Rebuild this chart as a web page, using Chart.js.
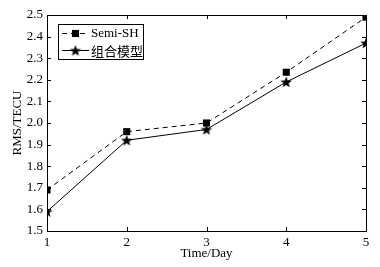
<!DOCTYPE html>
<html>
<head>
<meta charset="utf-8">
<script src="https://cdn.jsdelivr.net/npm/chart.js@4/dist/chart.umd.min.js"></script>
<style>
  html, body { margin: 0; padding: 0; background: #fff; }
  #wrap { width: 380px; height: 267px; }
</style>
</head>
<body>
<div id="wrap"><canvas id="rms"></canvas></div>
<script>
// data
var days = [1, 2, 3, 4, 5];
var semiSH = [1.69, 1.96, 2.00, 2.235, 2.49];
var combined = [1.59, 1.92, 1.97, 2.19, 2.37];
var yTicks = [1.5, 1.6, 1.7, 1.8, 1.9, 2.0, 2.1, 2.2, 2.3, 2.4, 2.5];
var seriesNames = ['Semi-SH', '组合模型'];

var serif = '"Liberation Serif", "Times New Roman", serif';
var cjk = '"Noto Sans CJK SC", "Liberation Serif", serif';

/**
 * Build a filled five point star as a point image
 * @param {number} size pixel size
 * @returns {HTMLCanvasElement}
 */
function makeStar(size) {
    var c = document.createElement('canvas');
    c.width = size;
    c.height = size;
    var g = c.getContext('2d');
    var cx = size / 2, cy = size / 2 + 0.5;
    var outer = size / 2, inner = outer * 0.42;
    g.beginPath();
    for (var i = 0; i < 10; i++) {
        var r = i % 2 === 0 ? outer : inner;
        var a = -Math.PI / 2 + i * Math.PI / 5;
        g.lineTo(cx + r * Math.cos(a), cy + r * Math.sin(a));
    }
    g.closePath();
    g.fillStyle = '#000';
    g.fill();
    return c;
}
var star = makeStar(12);

function toPoints(values) {
    return days.map(function(d, i) {
        return {x: d, y: values[i]};
    });
}

// Box, inward ticks and the legend inside the plot
var framePlugin = {
    id: 'frame',
    afterDraw: function(chart) {
        var ctx = chart.ctx;
        var a = chart.chartArea;
        var xs = chart.scales.x, ys = chart.scales.y;
        ctx.save();
        ctx.strokeStyle = '#000';
        ctx.lineWidth = 1;
        ctx.strokeRect(Math.round(a.left) + 0.5, Math.round(a.top) + 0.5,
            Math.round(a.right - a.left), Math.round(a.bottom - a.top));
        ctx.beginPath();
        days.forEach(function(d) {
            var px = Math.round(xs.getPixelForValue(d)) + 0.5;
            ctx.moveTo(px, a.bottom); ctx.lineTo(px, a.bottom - 4);
            ctx.moveTo(px, a.top); ctx.lineTo(px, a.top + 4);
        });
        yTicks.forEach(function(v) {
            var py = Math.round(ys.getPixelForValue(v)) + 0.5;
            ctx.moveTo(a.left, py); ctx.lineTo(a.left + 4, py);
            ctx.moveTo(a.right, py); ctx.lineTo(a.right - 4, py);
        });
        ctx.stroke();

        // legend
        var bx = 58, by = 24, bw = 85, bh = 35;
        ctx.fillStyle = '#fff';
        ctx.fillRect(bx, by, bw, bh);
        ctx.strokeRect(bx + 0.5, by + 0.5, bw, bh);
        var rows = [by + 9.5, by + 26.5];
        chart.data.datasets.forEach(function(ds, i) {
            var y = rows[i];
            ctx.beginPath();
            ctx.setLineDash(ds.borderDash || []);
            ctx.moveTo(bx + 4, y);
            ctx.lineTo(bx + 31, y);
            ctx.stroke();
            ctx.setLineDash([]);
            ctx.fillStyle = '#000';
            Chart.helpers.drawPoint(ctx, {
                pointStyle: ds.pointStyle,
                radius: ds.pointRadius,
                rotation: 0,
                borderWidth: 0
            }, bx + 17.5, y);
            ctx.font = '13px ' + (i === 0 ? serif : cjk);
            ctx.textBaseline = 'middle';
            ctx.textAlign = 'left';
            ctx.fillText(seriesNames[i], bx + 33, y + 0.5);
        });
        ctx.restore();
    }
};

new Chart(document.getElementById('rms'), {
    type: 'line',
    data: {
        datasets: [{
            label: seriesNames[0],
            data: toPoints(semiSH),
            borderColor: '#000',
            backgroundColor: '#000',
            borderWidth: 1,
            borderDash: [5, 4],
            pointStyle: 'rect',
            pointRadius: 5,
            pointBorderWidth: 0
        }, {
            label: seriesNames[1],
            data: toPoints(combined),
            borderColor: '#000',
            backgroundColor: '#000',
            borderWidth: 1,
            pointStyle: star,
            pointRadius: 6
        }]
    },
    options: {
        responsive: true,
        maintainAspectRatio: false,
        animation: false,
        layout: {padding: {top: 15, right: 14, left: 0, bottom: 0}},
        plugins: {
            legend: {display: false},
            tooltip: {enabled: false}
        },
        scales: {
            x: {
                type: 'linear',
                min: 1,
                max: 5,
                afterBuildTicks: function(scale) {
                    scale.ticks = days.map(function(d) { return {value: d}; });
                },
                afterFit: function(scale) { scale.height = 36; },
                grid: {display: false, drawTicks: false},
                border: {display: false},
                ticks: {
                    color: '#000',
                    padding: 4,
                    font: {family: serif, size: 13},
                    callback: function(v) { return String(v); }
                },
                title: {
                    display: true,
                    text: 'Time/Day',
                    color: '#000',
                    padding: {top: 0, bottom: 6},
                    font: {family: serif, size: 13}
                }
            },
            y: {
                min: 1.5,
                max: 2.5,
                afterBuildTicks: function(scale) {
                    scale.ticks = yTicks.map(function(v) { return {value: v}; });
                },
                afterFit: function(scale) { scale.width = 47; },
                grid: {display: false, drawTicks: false},
                border: {display: false},
                ticks: {
                    color: '#000',
                    padding: 4,
                    font: {family: serif, size: 13},
                    callback: function(v) { return v.toFixed(1); }
                },
                title: {
                    display: true,
                    text: 'RMS/TECU',
                    color: '#000',
                    padding: {top: 10, bottom: 0},
                    font: {family: serif, size: 13}
                }
            }
        }
    },
    plugins: [framePlugin]
});
</script>
</body>
</html>
